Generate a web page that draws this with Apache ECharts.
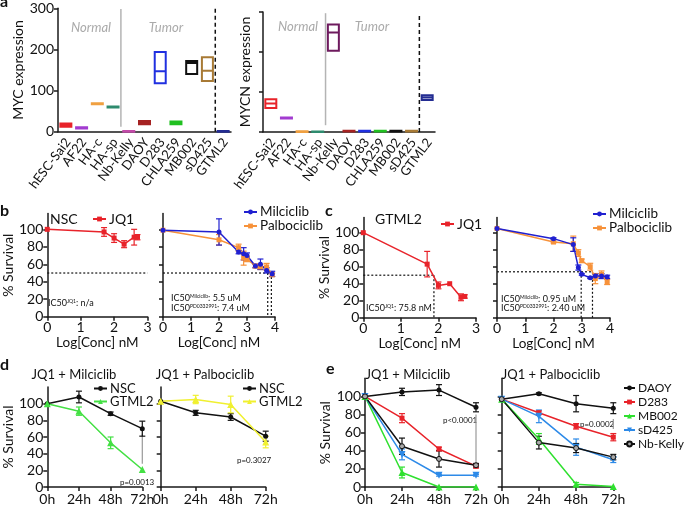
<!DOCTYPE html>
<html><head><meta charset="utf-8">
<script src="https://cdn.jsdelivr.net/npm/echarts@6/dist/echarts.min.js"></script>
<style>html,body{margin:0;padding:0;background:#fff}#c{width:685px;height:506px}</style>
</head><body><div id="c"></div>
<script>
// ---------------- DATA ----------------
const cellLines = ['hESC-Sai2','AF22','HA-c','HA-sp','Nb-Kelly','DAOY','D283','CHLA259','MB002','sD425','GTML2'];
// floating boxes: [low, median, high]
const mycRange  = [[12,16,20],[8,10,11],[67,68,69],[59,60,61],[0,1,2],[18,22,26],[118,147,194],[18,21,25],[140,167,172],[123,148,181],[0,1,2]];
const mycnRange = [[60,71,82],[34,35,36],[0,1,2],[0,0.5,1],[203,249,269],[1,2,3],[1,2,3],[1,2,3],[1,2,3],[1,2,3],[80,86,92]];
const groupSeparator = 'HA-sp';  // Normal | Tumor boundary after this line
const gtmlSeparator = 'sD425';   // dashed boundary after this line

const jq1LogConc = [0, 1.7, 2.0, 2.3, 2.6, 2.7];
const nscJq1 = [100, 97, 90, 83, 91, 91];
const nscJq1Err = [0, 5, 5, 4, 9, 3];
const gtmlJq1 = [100, 63, 38, 40, 24, 25];
const gtmlJq1Err = [0, 15, 4, 0, 4, 2];

const cdkLogConc = [0, 2, 2.7, 2.88, 3.0, 3.3, 3.48, 3.7, 3.9];
const nscMil = [99, 97, 74, 72, 70, 58, 60, 53, 49];
const nscMilErr = [0, 15, 2, 7, 3, 2, 6, 3, 3];
const nscPal = [99, 88, 79, 67, 66, 58, 57, 57, 48];
const nscPalErr = [0, 6, 4, 8, 3, 2, 3, 4, 2];
const gtmlMil = [105, 93, 86, 59, 51, 47, 49, 49, 48];
const gtmlMilErr = [0, 1, 8, 3, 1, 1, 2, 3, 2];
const gtmlPal = [105, 89, 87, 76, 67, 60, 46, 51, 42];
const gtmlPalErr = [0, 1, 9, 4, 2, 4, 6, 4, 3];

const ic50Nsc = [];              // JQ1 in NSC: n/a
const ic50NscCdk = [3.74, 3.87];
const ic50GtmlJq1 = [1.88];
const ic50GtmlCdk = [2.98, 3.38];
const halfLevelB = 50, halfLevelC1 = 50, halfLevelC2 = 54;

const times = ['0h','24h','48h','72h'];
const dNscMil = [100, 108, 88, 70];   const dNscMilErr = [0, 7, 2, 9];
const dGtmlMil = [100, 91, 53, 21];   const dGtmlMilErr = [0, 5, 7, 0];
const dNscPal = [103, 89, 84, 61];    const dNscPalErr = [0, 3, 4, 6];
const dGtmlPal = [103, 105, 99, 54];  const dGtmlPalErr = [0, 5, 10, 7];
const dPMil = [28, 64];

const eLines = ['DAOY','D283','MB002','sD425','Nb-Kelly'];
const eMil = [[100,105,107,88],[100,76,42,23],[100,16,0,0],[100,36,13,13],[100,45,31,24]];
const eMilErr = [[0,4,6,5],[0,5,2,2],[0,6,0,0],[0,6,1,1],[0,9,9,2]];
const ePal = [[97,103,92,87],[97,82,67,55],[97,53,3,0.5],[97,78,44,30],[97,49,43,33]];
const ePalErr = [[0,1,9,6],[0,2,3,4],[0,6,2,0],[0,7,9,3],[0,7,5,3]];
const ePMil = [24, 80], ePPal = [64, 75];
const survTicks = [0, 20, 40, 60, 80, 100];

// ---------------- STYLE ----------------
const F = 'Lato, "Open Sans", sans-serif';
const INK = '#1a1a1a';
const mycColors  = ['#e8232a','#a23bd0','#f0a040','#2e8b6e','#c24aa8','#a52222','#2030e0','#20c020','#111111','#a87a35','#232c92'];
const mycnColors = ['#e8232a','#a23bd0','#f0a040','#2e8b6e','#6e1a5e','#a52222','#2030e0','#20c020','#111111','#a87a35','#232c92'];
const RED = '#e8232a', BLUE = '#2020d0', ORANGE = '#f7923a', GREEN = '#44e044', YELLOW = '#f0f030', LBLUE = '#2d8ae8';
const eColors = ['#111111', RED, '#2fe02f', LBLUE, '#111111'];
const eSymbols = ['circle','rect','triangle','triangle','circle'];
const LABEL_ROT = 53;

const grids = [
  {left:58, top:8.3, width:173, height:123.4},
  {left:263, top:12, width:172, height:120},
  {left:41, top:213.6, width:106.5, height:103.1},
  {left:163, top:213.6, width:112, height:103.1},
  {left:363.3, top:217.4, width:112.7, height:100.3},
  {left:497, top:217.4, width:113, height:100.3},
  {left:33.3, top:387, width:109, height:103.7},
  {left:160.7, top:387, width:105, height:103.7},
  {left:365, top:378.3, width:111, height:114},
  {left:501.7, top:378.3, width:111.6, height:114}
];

const axLine = () => ({lineStyle:{color:INK, width:1.5}});
const axTick = () => ({length:4, lineStyle:{color:INK, width:1.5}});
const lab = (extra) => Object.assign({color:'#111', fontSize:13, fontFamily:F, margin:4}, extra||{});
const nameStyle = {fontSize:14, fontFamily:F, color:'#111'};

const xAxis = [], yAxis = [];
// panel a
[0,1].forEach(g => {
  xAxis.push({gridIndex:g, type:'category', data:cellLines, axisLine:axLine(),
    axisTick:Object.assign({alignWithLabel:true}, axTick()),
    axisLabel:{rotate:LABEL_ROT, interval:0, fontSize:13, fontFamily:F, color:'#111', margin:6}});
});
// b, c
[[2,3],[3,4],[4,3],[5,4]].forEach(([g,mx]) => {
  xAxis.push({gridIndex:g, type:'value', min:0, max:mx, interval:1, axisLine:axLine(), axisTick:axTick(),
    axisLabel:lab({fontSize:14}), splitLine:{show:false},
    name:'Log[Conc] nM', nameLocation:'middle', nameGap:16, nameTextStyle:{fontSize:13.5, fontFamily:F, color:'#111'}});
});
// d, e
[6,7,8,9].forEach(g => {
  xAxis.push({gridIndex:g, type:'category', data:times, boundaryGap:false, axisLine:axLine(),
    axisTick:Object.assign({alignWithLabel:true}, axTick()), axisLabel:lab({fontSize:14, margin:5})});
});

yAxis.push({gridIndex:0, type:'value', min:0, max:300, interval:100, axisLine:Object.assign({show:true},axLine()),
  axisTick:Object.assign({show:true},axTick()), axisLabel:lab({fontSize:14}), splitLine:{show:false},
  name:'MYC expression', nameLocation:'middle', nameGap:30, nameTextStyle:nameStyle});
yAxis.push({gridIndex:1, type:'value', min:0, max:300, interval:100, axisLine:Object.assign({show:true},axLine()),
  axisTick:Object.assign({show:true},axTick()), axisLabel:{show:false}, splitLine:{show:false},
  name:'MYCN expression', nameLocation:'middle', nameGap:11, nameTextStyle:nameStyle});
const survY = (g, mx, showLab, gap) => ({gridIndex:g, type:'value', min:0, max:mx,
  axisLine:Object.assign({show:true},axLine()),
  axisTick:Object.assign({show:true, customValues:survTicks},axTick()),
  axisLabel: showLab ? lab({fontSize:14, customValues:survTicks}) : {show:false},
  splitLine:{show:false},
  name: showLab ? '% Survival' : '', nameLocation:'middle', nameGap:gap, nameTextStyle:nameStyle});
yAxis.push(survY(2,118,true,29), survY(3,118,false,0), survY(4,118,true,26), survY(5,118,false,0),
           survY(6,120,true,26), survY(7,120,false,0), survY(8,120,true,30), survY(9,120,false,0));

// ---------------- SERIES ----------------
const series = [];
function boxes(g, ranges, colors) {
  series.push({type:'boxplot', xAxisIndex:g, yAxisIndex:g, boxWidth:[11,11], silent:true,
    data: ranges.map((r,i) => ({value:[r[0], r[0], r[1], r[2], r[2]],
      itemStyle:{color:'rgba(255,255,255,0)', borderColor:colors[i], borderWidth:2}}))});
}
boxes(0, mycRange, mycColors);
boxes(1, mycnRange, mycnColors);
// separator line placed midway between a category and the next one
function sepLine(g, afterName, lo, hi, color, dash) {
  const idx = cellLines.indexOf(afterName);
  series.push({type:'custom', xAxisIndex:g, yAxisIndex:g, silent:true, z:1,
    data:[[idx, lo, hi]], encode:{x:0, y:[1,2]},
    renderItem:(p, api) => {
      const i = api.value(0);
      const a = api.coord([i, api.value(1)]), b = api.coord([i + 1, api.value(2)]);
      const a2 = api.coord([i + 1, api.value(1)]);
      const x = (a[0] + a2[0]) / 2;
      return {type:'line', shape:{x1:x, y1:a[1], x2:x, y2:b[1]},
        style:{stroke:color, lineWidth:1.5, lineDash:dash}};
    }});
}
sepLine(0, groupSeparator, 12, 298, '#b4b4b4', null);
sepLine(0, gtmlSeparator, 0, 300, '#111', [4,3]);
sepLine(1, groupSeparator, 17, 297, '#b4b4b4', null);
sepLine(1, gtmlSeparator, 0, 297, '#111', [4,3]);

function errBars(g, xs, ys, errs, color) {
  const data = [];
  ys.forEach((v,i) => { if (errs[i] > 0) data.push([xs[i], v - errs[i], v + errs[i]]); });
  series.push({type:'custom', xAxisIndex:g, yAxisIndex:g, silent:true, data, z:3,
    encode:{x:0, y:[1,2]},
    renderItem:(p, api) => {
      const a = api.coord([api.value(0), api.value(1)]);
      const b = api.coord([api.value(0), api.value(2)]);
      const w = 3, st = {stroke:color, lineWidth:1.2};
      return {type:'group', children:[
        {type:'line', shape:{x1:a[0],y1:a[1],x2:b[0],y2:b[1]}, style:st},
        {type:'line', shape:{x1:a[0]-w,y1:a[1],x2:a[0]+w,y2:a[1]}, style:st},
        {type:'line', shape:{x1:b[0]-w,y1:b[1],x2:b[0]+w,y2:b[1]}, style:st}]};
    }});
}
function curve(g, name, xs, ys, errs, color, symbol, opts) {
  opts = opts || {};
  const data = xs ? ys.map((v,i) => [xs[i], v]) : ys.slice();
  series.push({type:'line', name, xAxisIndex:g, yAxisIndex:g, data, symbol,
    symbolSize: symbol==='triangle'?7:5, symbolRotate: opts.rot||0, z:4,
    lineStyle:{color, width:1.5}, itemStyle:{color: opts.fill||color, borderColor:color, borderWidth: opts.fill?1:0}});
  errBars(g, xs || times, ys, errs, color);
}
function ic50Lines(g, level, vals, xEnd) {
  const end = vals.length ? Math.max(...vals) : xEnd;
  series.push({type:'line', xAxisIndex:g, yAxisIndex:g, silent:true, symbol:'none', z:2,
    data:[[0,level],[end,level]], lineStyle:{color:'#111', width:1.2, type:[2,2]}});
  vals.forEach(v => series.push({type:'line', xAxisIndex:g, yAxisIndex:g, silent:true, symbol:'none', z:2,
    data:[[v,level],[v,0]], lineStyle:{color:'#111', width:1.2, type:[2,2]}}));
}
// b
ic50Lines(2, halfLevelB, ic50Nsc, 3);
curve(2, 'JQ1', jq1LogConc, nscJq1, nscJq1Err, RED, 'rect');
ic50Lines(3, halfLevelB, ic50NscCdk, 4);
curve(3, 'Palbociclib', cdkLogConc, nscPal, nscPalErr, ORANGE, 'rect');
curve(3, 'Milciclib', cdkLogConc, nscMil, nscMilErr, BLUE, 'circle');
// c
ic50Lines(4, halfLevelC1, ic50GtmlJq1, 3);
curve(4, 'JQ1', jq1LogConc, gtmlJq1, gtmlJq1Err, RED, 'rect');
ic50Lines(5, halfLevelC2, ic50GtmlCdk, 4);
curve(5, 'Palbociclib', cdkLogConc, gtmlPal, gtmlPalErr, ORANGE, 'rect');
curve(5, 'Milciclib', cdkLogConc, gtmlMil, gtmlMilErr, BLUE, 'circle');
// d
function pLine(g, range) {
  series.push({type:'line', xAxisIndex:g, yAxisIndex:g, silent:true, symbol:'none', z:2,
    data:[['72h',range[0]],['72h',range[1]]], lineStyle:{color:'#999', width:1.2}});
}
pLine(6, dPMil);
curve(6, 'NSC', null, dNscMil, dNscMilErr, '#111', 'circle');
curve(6, 'GTML2', null, dGtmlMil, dGtmlMilErr, GREEN, 'triangle');
curve(7, 'NSC ', null, dNscPal, dNscPalErr, '#111', 'circle');
curve(7, 'GTML2 ', null, dGtmlPal, dGtmlPalErr, YELLOW, 'triangle');
// e
pLine(8, ePMil); pLine(9, ePPal);
eLines.forEach((n,i) => {
  const opts = {rot: n==='sD425'?180:0, fill: n==='Nb-Kelly'?'#aaa':null};
  curve(8, n, null, eMil[i], eMilErr[i], eColors[i], eSymbols[i], opts);
  curve(9, n, null, ePal[i], ePalErr[i], eColors[i], eSymbols[i], opts);
});

// ---------------- LEGENDS ----------------
const lg = (names, left, top, lh, fs, iw) => ({data:names, left, top, orient:'vertical', padding:0, itemGap:0,
  itemWidth:iw||13, itemHeight:6, selectedMode:false, formatter: n => n.trim(),
  textStyle:{fontSize:fs||13, fontFamily:F, color:'#111', lineHeight:lh, padding:[0,0,0,-2]}});
const legend = [
  lg(['JQ1'], 92, 212, 14, 14),
  lg(['Milciclib','Palbociclib'], 243, 205, 14, 13.5),
  lg(['JQ1'], 440, 217, 14, 14),
  lg(['Milciclib','Palbociclib'], 592, 207, 12.5, 13.5),
  lg(['NSC','GTML2'], 93, 382, 12, 13),
  lg(['NSC ','GTML2 '], 242, 382, 12, 13),
  lg(eLines, 623, 381, 14, 12, 11)
];

// ---------------- TEXT ANNOTATIONS ----------------
const txt = (text, x, y, size, opts) => ({type:'text', x, y, silent:true,
  style:Object.assign({text, fontSize:size, fontFamily:F, fill:'#111', verticalAlign:'middle', align:'left'}, opts||{})});
const ic = (sup, val) => '{a|IC50}{s|' + sup + '}{a|: ' + val + '}';
const rich = {a:{fontSize:9, fontFamily:F, fill:'#111'}, s:{fontSize:5, fontFamily:F, verticalAlign:'top', fill:'#111'}};
const graphic = [
  txt('a', 0, 2, 16, {fontWeight:'bold'}),
  txt('b', 0, 211, 16, {fontWeight:'bold'}),
  txt('c', 325, 211, 16, {fontWeight:'bold'}),
  txt('d', 0, 365, 16, {fontWeight:'bold'}),
  txt('e', 326, 369, 16, {fontWeight:'bold'}),
  txt('Normal', 91, 28, 13, {fontStyle:'italic', fill:'#aaa', align:'center'}),
  txt('Tumor', 166, 28, 13, {fontStyle:'italic', fill:'#aaa', align:'center'}),
  txt('Normal', 298, 27, 13, {fontStyle:'italic', fill:'#aaa', align:'center'}),
  txt('Tumor', 372, 27, 13, {fontStyle:'italic', fill:'#aaa', align:'center'}),
  txt('NSC', 50, 219, 14),
  txt('GTML2', 375, 219, 14),
  txt(ic('JQ1','n/a'), 48, 303, 9, {rich}),
  txt(ic('Milciclib','5.5 uM'), 171, 298, 9, {rich}),
  txt(ic('PD0332991','7.4 uM'), 171, 308, 9, {rich}),
  txt(ic('JQ1','75.8 nM'), 366, 308, 9, {rich}),
  txt(ic('Milciclib','0.95 uM'), 501, 299, 9, {rich}),
  txt(ic('PD0332991','2.40 uM'), 501, 308, 9, {rich}),
  txt('JQ1 + Milciclib', 74, 375, 13, {align:'center'}),
  txt('JQ1 + Palbociclib', 205, 375, 13, {align:'center'}),
  txt('JQ1 + Milciclib', 408, 375, 13, {align:'center'}),
  txt('JQ1 + Palbociclib', 551, 375, 13, {align:'center'}),
  txt('p=0.0013', 120, 482, 8),
  txt('p=0.3027', 237, 460, 8),
  txt('p<0.0001', 443, 420, 8),
  txt('p=0.0002', 580, 424, 8)
];

const chart = echarts.init(document.getElementById('c'), null, {renderer:'canvas'});
chart.setOption({animation:false, backgroundColor:'#fff', grid:grids, xAxis, yAxis, series, legend, graphic});

// Rotated category labels for panel a, positioned through the axis scale
try {
  const extra = [];
  [0,1].forEach(g => cellLines.forEach(n => {
    const p = chart.convertToPixel({gridIndex:g}, [n, 0]);
    if (!p || isNaN(p[0])) throw new Error('no pixel');
    extra.push({type:'text', x:p[0] + 2, y:p[1] + 8, rotation: LABEL_ROT * Math.PI / 180, silent:true,
      style:{text:n, align:'right', verticalAlign:'middle', fontSize:13, fontFamily:F, fill:'#111'}});
  }));
  chart.setOption({xAxis:[{axisLabel:{show:false}},{axisLabel:{show:false}}], graphic: graphic.concat(extra)});
} catch (e) { /* keep axis labels */ }
</script></body></html>
